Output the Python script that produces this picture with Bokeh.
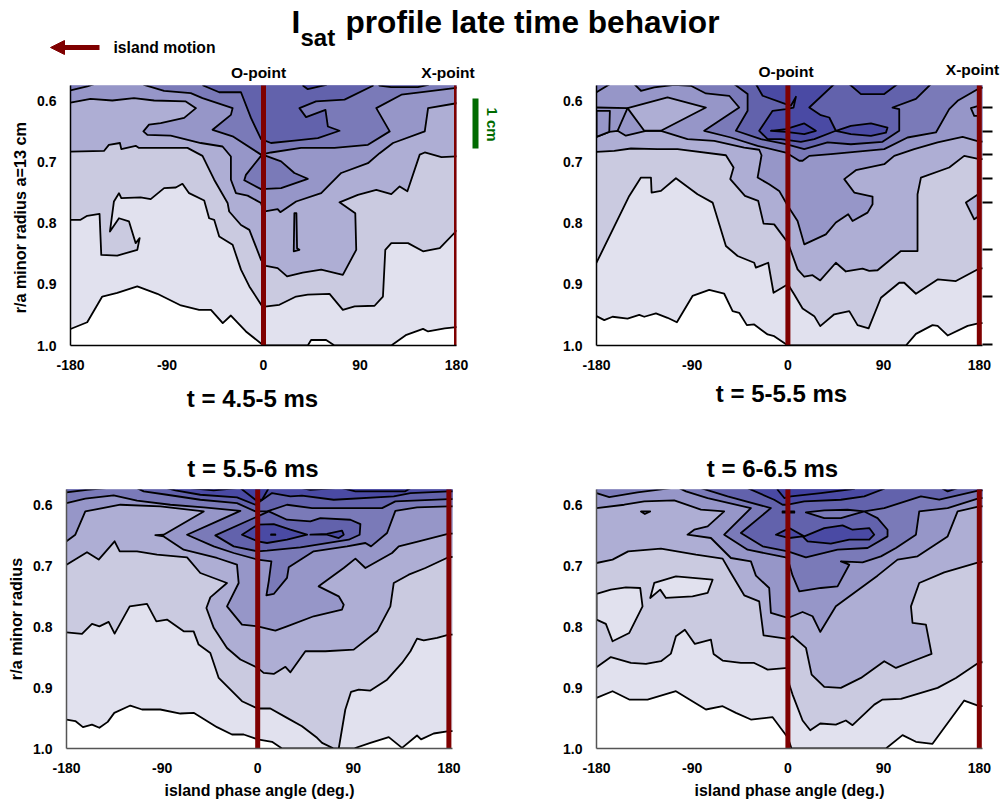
from bokeh.plotting import figure
from bokeh.layouts import column, row
from bokeh.models import Range1d, FixedTicker, NumeralTickFormatter, LinearAxis, Label, Arrow, NormalHead
from bokeh.embed import file_html
from bokeh.resources import INLINE

TITLE_MAIN = "profile late time behavior"
PHASE_TICKS = [-180, -90, 0, 90, 180]
RADIUS_TICKS = [0.6, 0.7, 0.8, 0.9, 1.0]
P2_RIGHT_TICKS = [0.574, 0.611, 0.651, 0.688, 0.727, 0.767, 0.843, 0.92, 0.998]
LEVEL_COLORS = {1: "#e1e1ee", 2: "#cacae0", 3: "#aeaed4", 4: "#9696c8", 5: "#7a7ab8", 6: "#6262ac", 7: "#4a4aa4", 8: "#4040a0"}

# ---- panel 1, t = 4.5-5 ms: contours as (phase deg, r/a)
P1_C1 = [(-180,.973),(-164.4,.962),(-150.4,.920),(-136.4,.914),(-117.7,.9035),(-99,.9155),(-77,.9346),(-60,.9417),(-49,.9417),(-38,.9635),(-30.4,.951),(-16.4,.977),(0,1.0),(41.3,1.0),(44.4,.991),(58.4,.991),(66.2,1.0),(119.2,1.0),(133.3,.9826),(148.8,.9728),(153.5,.977),(169,.972),(180,.970)]
P1_C2 = [(-180,.7945),(-170.6,.7945),(-164.4,.788),(-152.9,.785),(-151.3,.852),(-136.4,.853),(-117.7,.8436),(-115.5,.8245),(-119.2,.8327),(-125.5,.797),(-134.8,.792),(-143.2,.8136),(-139.5,.7646),(-134.8,.751),(-132.6,.759),(-114.6,.758),(-105.2,.7608),(-92.7,.7428),(-81.8,.7417),(-75.6,.7357),(-69.4,.751),(-55.3,.763),(-50.7,.792),(-46,.7945),(-41.3,.822),(-28.8,.8354),(-21,.876),(-13.2,.9035),(-0.8,.937),(14.8,.9335),(30.4,.92),(41.3,.917),(61.6,.9155),(74,.9417),(85,.936),(103.6,.935),(111.4,.92),(113.6,.8436),(119.2,.8327),(134.8,.8327),(148.8,.846),(164.4,.841),(180,.8125)]
P1_C3 = [(-180,.683),(-148.8,.682),(-144.2,.672),(-133.9,.669),(-132.6,.679),(-119.2,.6736),(-116.1,.677),(-70.9,.677),(-56.9,.690),(-46,.729),(-33.5,.767),(-32,.781),(-21,.803),(-13.2,.811),(-2.3,.860),(2.3,.870),(13.2,.8736),(22,.887),(36.6,.8807),(53.8,.876),(74,.8845),(86.5,.8436),(85.6,.7837),(70.9,.766),(88,.7537),(105.2,.7455),(119.2,.7526),(127,.74),(134.2,.748),(145.7,.688),(150.4,.6845),(166,.692),(180,.691)]
P1_SPIKE = [(28.8,.7837),(30.7,.7837),(31.3,.841),(33.5,.8436),(28.2,.846)]
P1_C4 = [(-180,.603),(-161.3,.597),(-141,.5995),(-120.8,.5956),(-102,.5995),(-72.5,.601),(-63,.612),(-74,.628),(-95.9,.6365),(-106.8,.639),(-112,.650),(-108.3,.6556),(-86.5,.657),(-58.5,.669),(-38.2,.6747),(-30.4,.691),(-30.4,.729),(-25.7,.751),(-14.8,.755),(-2.3,.767),(0,.781),(13.2,.777),(15.7,.782),(30.4,.7646),(53.8,.751),(72.5,.718),(97.4,.702),(108.3,.6856),(120.8,.669),(150.4,.650),(153.5,.612),(180,.604)]
P1_C5 = [(-111.4,.574),(-92.7,.5837),(-67.8,.5875),(-56.9,.5956),(-28.8,.612),(-30.4,.623),(-47.5,.6474),(-28.8,.658),(-2.3,.688),(7,.6845),(35,.677),(66.2,.677),(97.4,.672),(117.7,.650),(105.2,.612),(128.6,.590),(153.5,.5847),(180,.579)]
P1_C5_CORNER = [(-180,.583),(-164.4,.5766),(-155,.571)]
P1_C5_ISLAND = [(-2.3,.690),(-16.4,.721),(-17.9,.730),(-2.3,.7444),(16.4,.7428),(41.3,.7275),(28.8,.718),(16.4,.699),(2.3,.690)]
P1_C6 = [(-56.3,.575),(-41.3,.586),(-21,.586),(-11.7,.628),(-2.3,.6627),(7,.669),(28.8,.665),(50.7,.661),(70.9,.649),(60,.642),(57.8,.6147),(39.7,.6267),(33.5,.612),(49,.601),(75.6,.598),(102,.5755)]
P1_C6_TOP = [(108,.575),(119,.5777),(144,.5777),(153.5,.574)]
P1_C7_TOP = [(37,.5755),(41.3,.581),(58.4,.574)]
P1_BANDS = [(1,P1_C1,"up"),(2,P1_C2,"up"),(3,P1_C3,"up"),(4,P1_SPIKE,"loop"),(4,P1_C4,"up"),(5,P1_C5,"up"),(5,P1_C5_CORNER,"up"),(5,P1_C5_ISLAND,"loop"),(6,P1_C6,"up"),(6,P1_C6_TOP,"up"),(7,P1_C7_TOP,"up")]

# ---- panel 2, t = 5-5.5 ms
P2_C1 = [(-180,.952),(-172.7,.9585),(-164.9,.953),(-150.8,.956),(-139.8,.950),(-135.1,.953),(-124.1,.9476),(-113.2,.9547),(-104.4,.962),(-89.7,.919),(-74,.909),(-59.9,.9154),(-52,.9438),(-45.8,.9465),(-38.6,.9667),(-31.7,.9656),(-19.1,.982),(-12.9,.9847),(0,1.0),(111,1.0),(120.4,.981),(136,.9667),(140.8,.968),(150.2,.9836),(169,.968),(180,.9634)]
P2_C2 = [(-180,.8647),(-149.2,.7555),(-138.2,.7255),(-128.8,.7255),(-128.2,.750),(-119.4,.7473),(-105.3,.7266),(-85,.7528),(-70.8,.7664),(-58.3,.8374),(-47.3,.8537),(-31.7,.8647),(-30.1,.8728),(-18.5,.8647),(-13.5,.9138),(0,.900),(6,.9165),(13.8,.9394),(24.8,.952),(30.4,.9683),(43.6,.949),(57.7,.9438),(65.5,.9667),(75.9,.972),(87.5,.922),(104.7,.8974),(109.4,.8974),(120.4,.9154),(140.8,.892),(158,.8947),(180,.874)]
P2_C3 = [(-180,.6835),(-163.3,.682),(-147.6,.678),(-122.6,.679),(-103.8,.679),(-58.3,.689),(-51.1,.709),(-54.2,.728),(-40.4,.7555),(-27.9,.7637),(-22.9,.8008),(-12.9,.802),(0,.832),(9.1,.8756),(15.4,.8876),(23.2,.885),(30.4,.8936),(45.1,.8647),(54.5,.879),(70.2,.8745),(76.5,.878),(84.3,.877),(106.3,.8456),(121.9,.8456),(121.9,.7528),(125.1,.7255),(151.7,.709),(165.8,.690),(180,.6955)]
P2_C3_EDGE = [(180,.7517),(167.4,.7664),(175.2,.7937),(180,.788)]
P2_C4 = [(-180,.659),(-168,.6507),(-160.2,.649),(-152.4,.657),(-133.5,.649),(-119.4,.649),(-94.4,.6628),(-69.3,.6655),(-41.1,.6764),(-27,.680),(-24.8,.689),(-28.5,.7255),(-17.6,.7364),(-8.2,.7473),(0,.772),(9.1,.7965),(15.4,.8347),(35.7,.8183),(45.1,.799),(56.7,.7855),(60.8,.7965),(74.9,.7828),(79.6,.769),(79.6,.7566),(62.4,.750),(53,.728),(63.9,.7135),(90.6,.7037),(100,.690),(118.8,.679),(140.8,.668),(164.3,.659),(180,.6666)]
P2_BOX = [(-180,.6164),(-167.4,.6164),(-168,.6507),(-180,.659)]
P2_ISLAND = [(-150.8,.612),(-113.2,.5945),(-77.1,.611),(-119.4,.649),(-135.1,.649)]
P2_SEAM = [(-180,.611),(-150.8,.612),(-160.2,.649)]
P2_C5 = [(-144.5,.5727),(-138.2,.5836),(-125.7,.578),(-106.9,.5738),(-91.2,.5755),(-77.1,.588),(-55.2,.5918),(-45.8,.611),(-78.7,.649),(-53.6,.660),(-28.5,.6737),(-1.9,.6846),(10.7,.698),(13.8,.698),(20.1,.690),(40.4,.6873),(90.6,.679),(112.5,.660),(139.2,.6518),(151.7,.6136),(159.6,.600),(178.4,.581),(180,.579)]
P2_C5_CORNER = [(-180,.586),(-167.4,.5727)]
P2_C4_EDGE = [(172.1,.612),(180,.608),(180,.6246),(175.2,.6246)]
P2_C6 = [(-50.5,.5727),(-37.9,.589),(-37.9,.6164),(-48.9,.649),(-25.4,.6628),(-1.9,.671),(15.4,.679),(37.3,.668),(59.2,.671),(89,.667),(104.7,.649),(104.7,.6136),(98.4,.611),(120.4,.597),(134.5,.5727)]
P2_C7 = [(-30.1,.5727),(-23.8,.5918),(-1.9,.6055),(2.8,.608),(7.5,.5935),(5.3,.611),(-1.9,.6136),(-14.4,.6164),(-27,.649),(-19.1,.6628),(-6.6,.6628),(12.2,.667),(24.8,.6628),(45.1,.649),(38.9,.6273),(31,.6235),(20.1,.611),(43.6,.5727)]
P2_C7_TOP = [(57.7,.5727),(68.7,.589),(90.6,.589),(103.1,.5727)]
P2_C7_ISLAND = [(45.1,.649),(59.2,.641),(78.1,.637),(93.7,.6437),(92.2,.652),(78.1,.6573),(59.2,.6546)]
P2_C8_ISLAND = [(-16,.649),(-1.9,.6464),(15.4,.637),(26.3,.649),(15.4,.6546),(-1.9,.6507)]
P2_BANDS = [(1,P2_C1,"up"),(2,P2_C2,"up"),(3,P2_C3,"up"),(3,P2_C3_EDGE,"loop"),(4,P2_C4,"up"),(4,P2_BOX,"loop"),(3,P2_ISLAND,"loop"),(0,P2_SEAM,"line"),(5,P2_C5,"up"),(5,P2_C5_CORNER,"up"),(4,P2_C4_EDGE,"loop"),(6,P2_C6,"up"),(7,P2_C7,"up"),(7,P2_C7_TOP,"up"),(7,P2_C7_ISLAND,"loop"),(8,P2_C8_ISLAND,"loop")]

# ---- panel 3, t = 5.5-6 ms
P3_C1 = [(-180,.9525),(-171.7,.955),(-164.5,.965),(-156,.9607),(-149,.966),(-141.2,.9563),(-135,.9415),(-119.9,.9295),(-108.9,.936),(-91.7,.936),(-72.8,.9426),(-60.3,.9415),(-38.3,.965),(-24.2,.977),(-13.2,.977),(0,.985),(13.5,.989),(22.9,1.0),(90.4,1.0),(106.1,.9907),(123.4,.9814),(135.9,.999),(150,.9787),(153.8,.985),(165.7,.9754),(180,.9716)]
P3_C2 = [(-180,.8093),(-165.4,.812),(-156,.7956),(-149,.7995),(-140.3,.7923),(-134.7,.8115),(-120.5,.7667),(-104.2,.7628),(-95.4,.7913),(-85.4,.7885),(-69.7,.8077),(-60.3,.8077),(-55.6,.8295),(-44.6,.8432),(-36.7,.8842),(-14.8,.9224),(0,.9344),(11.9,.9344),(27.6,.9497),(41.7,.9634),(55.9,.9825),(60.6,.9907),(71.6,1.0),(76.3,1.0),(82.5,.936),(87.9,.907),(95.1,.9033),(106.1,.905),(121.8,.887),(135.9,.8596),(143.8,.8404),(150,.8197),(156.3,.8224),(168.9,.8186),(180,.8131)]
P3_C3 = [(-180,.6984),(-160.7,.678),(-149.7,.690),(-134.7,.660),(-129.9,.6765),(-113.6,.6765),(-94.8,.682),(-66.5,.6863),(-54,.712),(-28.9,.7284),(-44.6,.752),(-48.3,.7694),(-41.4,.802),(-28.9,.835),(-16.3,.854),(0,.8678),(5.6,.876),(15.1,.8776),(26.1,.866),(30.8,.875),(44.9,.8404),(63.7,.8404),(90.4,.8377),(112.4,.8077),(124.9,.7667),(128.1,.7284),(142.2,.7148),(157.9,.7038),(180,.6858)]
P3_C4 = [(-180,.660),(-171.7,.6492),(-162.3,.611),(-129.3,.600),(-91.7,.6027),(-50.8,.611),(-88.5,.6492),(-96.4,.650),(-88.5,.652),(-69.7,.6738),(-38.3,.6874),(-19.5,.6984),(-17.9,.7284),(-28.9,.7667),(-14.8,.7967),(0,.7995),(16.6,.8066),(27.6,.7995),(52.7,.783),(79.4,.772),(81,.764),(76.3,.7503),(57.4,.7339),(81,.7038),(92,.6885),(101.4,.7038),(126.5,.6792),(132.8,.6683),(151.6,.660),(180,.6475)]
P3_C5 = [(-180,.5973),(-162.3,.590),(-135.6,.5847),(-113.6,.5934),(-82.2,.600),(-50.8,.6044),(-16.3,.610),(-38.3,.6273),(-66.5,.6492),(-41.4,.6683),(-22.6,.6792),(0,.690),(12.9,.693),(10.4,.7257),(8.2,.7486),(15.1,.7464),(27.6,.720),(29.2,.7027),(52.7,.6765),(84.1,.6683),(101.4,.6628),(106.7,.6683),(121.8,.6464),(129.6,.610),(150,.6044),(180,.6027)]
P3_C6_CORNER = [(-180,.5798),(-160.7,.5754),(-142.5,.5727)]
P3_C6_TOP = [(-113.6,.5727),(-107.3,.578),(-85.4,.5836),(-54,.5918),(-19.5,.5973),(-2.2,.611),(8.8,.611),(27.6,.600),(51.2,.6055),(117.1,.6055),(129.6,.5945),(180,.5907)]
P3_C7_TOP = [(-85.4,.5727),(-77.5,.5765),(-54,.5836),(-19.5,.588),(-2.2,.600),(13.5,.5809),(30.8,.5863),(41.7,.5852),(71.6,.5918),(128.1,.5863),(143.8,.5809),(180,.5781)]
P3_C8_A = [(-63.4,.5727),(-41.4,.5765),(-19.5,.5727)]
P3_C8_B = [(-16.3,.5727),(-2.2,.5918),(4.1,.5918),(10.4,.5727)]
P3_C8_C = [(41.7,.5727),(49.6,.5754),(73.1,.5727)]
P3_C8_D = [(79.4,.5727),(92,.578),(139,.578),(143.8,.5727)]
P3_C6_LOOP = [(10.4,.611),(27.6,.6246),(49.6,.6273),(59,.6219),(87.3,.6246),(96.7,.6317),(96,.6492),(85.7,.6574),(40.2,.670),(8.8,.6754),(0,.6765),(-22.6,.6683),(-39.9,.6503),(0,.6191)]
P3_C7_LOOP = [(-14.8,.6492),(0,.6328),(15.1,.6317),(30.8,.641),(46.5,.6492),(27.6,.6574),(8.8,.6628),(0,.660)]
P3_C7_THIN = [(49.6,.6492),(65.3,.648),(79.4,.6426),(81,.6492),(76.3,.6546),(65.3,.6492)]
P3_C8_DOT = [(12.6,.6488),(16.6,.6488),(16.6,.6496),(12.6,.6496)]
P3_BANDS = [(1,P3_C1,"up"),(2,P3_C2,"up"),(3,P3_C3,"up"),(4,P3_C4,"up"),(5,P3_C5,"up"),(6,P3_C6_CORNER,"up"),(6,P3_C6_TOP,"up"),(7,P3_C7_TOP,"up"),(8,P3_C8_A,"up"),(8,P3_C8_B,"up"),(8,P3_C8_C,"up"),(8,P3_C8_D,"up"),(6,P3_C6_LOOP,"loop"),(7,P3_C7_LOOP,"loop"),(7,P3_C7_THIN,"loop"),(8,P3_C8_DOT,"loop")]

# ---- panel 4, t = 6-6.5 ms
P4_C1 = [(-180,.917),(-164.9,.906),(-149.2,.9197),(-132,.9197),(-105.3,.906),(-77.1,.936),(-61.4,.9306),(-48.9,.9415),(-34.8,.9525),(-14.4,.9486),(0,.9825),(3.4,1.0),(92.2,1.0),(107.8,.978),(120.4,.989),(136,.9923),(165.8,.9213),(180,.9306)]
P4_C2 = [(-180,.8667),(-166.5,.850),(-147.6,.8596),(-133.5,.8612),(-119.4,.8568),(-110,.8443),(-105.3,.8158),(-96.9,.805),(-87.5,.8284),(-72.4,.8213),(-69.9,.8448),(-61.4,.8557),(-44.2,.8596),(-31.7,.8596),(-19.1,.8705),(0,.8678),(1.3,.895),(4.4,.9115),(13.8,.9541),(21,.97),(30.4,.959),(45.1,.9607),(54.5,.9541),(60.8,.9617),(81.2,.928),(89,.9197),(106.3,.9186),(140.8,.9005),(158,.8842),(180,.8585)]
P4_C3 = [(-180,.6956),(-164.9,.690),(-150.2,.6765),(-119.4,.672),(-86.5,.682),(-61.4,.6885),(-53.6,.712),(-41.1,.7486),(-27,.7585),(-22.9,.8142),(0,.8202),(4.4,.8158),(17,.835),(22.3,.8787),(34.2,.8989),(49.8,.9005),(68.7,.8842),(90.6,.8568),(101.6,.8678),(117.2,.8568),(135.1,.8448),(129.8,.7967),(117.2,.794),(115.7,.7667),(123.5,.7284),(147,.711),(180,.694)]
P4_ISLAND_A = [(-180,.7464),(-166.5,.7393),(-152.4,.7355),(-138.9,.7366),(-136.7,.7667),(-149.2,.8104),(-164.9,.824),(-171.2,.7956),(-180,.7885)]
P4_ISLAND_B = [(-129.5,.753),(-125.7,.7284),(-105.3,.7175),(-70.8,.723),(-75.5,.7448),(-89.7,.7503),(-114.7,.753),(-120.1,.7393)]
P4_C4 = [(-180,.6055),(-153.9,.600),(-135.1,.5945),(-106.9,.593),(-81.8,.608),(-59.9,.611),(-75.5,.6355),(-88.1,.641),(-94.4,.6492),(-72.4,.6546),(-53.6,.6874),(-34.8,.693),(-30.1,.7164),(-17.6,.7366),(-16,.7776),(0,.7858),(13.8,.776),(23.2,.783),(30.4,.8087),(45.1,.7667),(84.3,.7164),(103.1,.690),(121.9,.6847),(150.2,.652),(159.6,.611),(180,.6027)]
P4_MARK = [(-138.2,.611),(-129.5,.611),(-134.5,.6153)]
P4_C5_CORNER = [(-180,.5809),(-168,.5874),(-141.4,.5798),(-110,.5727)]
P4_C5 = [(-102.2,.5727),(-95.9,.578),(-75.5,.589),(-34.8,.6055),(-59.9,.6492),(-37.9,.6738),(-1.9,.6863),(0,.690),(4.4,.7164),(10.7,.7421),(31,.7366),(46.7,.7339),(57.7,.6984),(49.8,.6929),(70.2,.6945),(87.5,.6847),(101.6,.671),(120.4,.6492),(123.5,.611),(150.2,.6055),(180,.5891)]
P4_C6 = [(-81.8,.5727),(-56.7,.5863),(-16,.6055),(-44.2,.6464),(-23.8,.6683),(0,.6765),(16.9,.6863),(46.7,.6738),(74.9,.671),(93.7,.6519),(93.7,.641),(84.3,.6219),(71.8,.611),(49.8,.6219),(34.2,.6219),(16.9,.6126),(34.2,.6093),(56.1,.6082),(71.8,.611),(90.6,.6055),(125.1,.5863),(142.3,.5918),(180,.5765)]
P4_C7_TOP = [(-37.9,.5727),(-12.9,.5918),(-5,.600),(0,.600),(15.4,.5945),(49.8,.5918),(71.8,.5863),(90.6,.5738)]
P4_C8_TOP = [(-9.7,.5754),(-3.4,.589),(2.8,.5863),(31,.5809),(62.4,.5738)]
P4_C7_EDGE = [(145.5,.5738),(150.2,.578),(159.6,.5727)]
P4_C7_LOOP = [(-11.3,.6492),(1.3,.6383),(15.4,.6519),(34.2,.6383),(51.4,.6339),(60.8,.641),(76.5,.6383),(81.2,.6492),(76.5,.6574),(57.7,.6574),(40.4,.6639),(18.5,.660),(13.8,.6519),(1.3,.6546)]
P4_BAR = [(-5,.611),(6,.611),(6,.613),(-5,.613)]
P4_BANDS = [(1,P4_C1,"up"),(2,P4_C2,"up"),(3,P4_C3,"up"),(2,P4_ISLAND_A,"loop1"),(2,P4_ISLAND_B,"loop1"),(4,P4_C4,"up"),(5,P4_MARK,"loop"),(5,P4_C5_CORNER,"up"),(5,P4_C5,"up"),(6,P4_C6,"up"),(7,P4_C7_TOP,"up"),(8,P4_C8_TOP,"up"),(7,P4_C7_EDGE,"up"),(7,P4_C7_LOOP,"loop"),(8,P4_BAR,"loop")]

FONT = "Liberation Sans"
RED = "#7f0000"
GREEN = "#006b00"
LW = 1.8
TOP_OFF = 0.5
SIDE_OFF = 200


def closed_up(pts):
    xs = [p[0] for p in pts]
    ys = [p[1] for p in pts]
    if xs[0] <= -180:
        xs = [-SIDE_OFF] + xs
        ys = [ys[0]] + ys
    if xs[-1] >= 180:
        xs = xs + [SIDE_OFF]
        ys = ys + [ys[-1]]
    return xs + [xs[-1], xs[0]], ys + [TOP_OFF, TOP_OFF]


def text(p, x, y, s, size, color="black", align="center", angle=0):
    p.add_layout(Label(x=x, y=y, text=s, text_font=FONT, text_font_style="bold", text_font_size=size,
                       text_color=color, text_align=align, text_baseline="middle", angle=angle))


def panel(bands, width, height, bl, br, bt, bb, x_end, ylabel=None, xlabel=None, gray=False):
    p = figure(width=width, height=height, output_backend="svg", toolbar_location=None,
               x_range=Range1d(-180, x_end), y_range=Range1d(1.0, 0.575),
               min_border_left=bl, min_border_right=br, min_border_top=bt, min_border_bottom=bb,
               outline_line_color=None, background_fill_color="white")
    p.grid.visible = False
    for lev, pts, mode in bands:
        if mode == "up":
            xs, ys = closed_up(pts)
            p.patch(xs, ys, fill_color=LEVEL_COLORS[lev], line_color="black", line_width=LW, line_join="round")
        elif mode == "line":
            p.line([q[0] for q in pts], [q[1] for q in pts], line_color="black", line_width=LW)
        else:
            c = LEVEL_COLORS[1] if mode == "loop1" else LEVEL_COLORS[lev]
            p.patch([q[0] for q in pts], [q[1] for q in pts], fill_color=c, line_color="black", line_width=LW, line_join="round")
    p.segment(x0=[0, 180], y0=[0.5, 0.5], x1=[0, 180], y1=[1.05, 1.05], line_color=RED, line_width=5)
    p.xaxis.ticker = FixedTicker(ticks=PHASE_TICKS)
    p.xaxis.major_label_overrides = {-180: "-180", -90: "-90"}
    p.yaxis.ticker = FixedTicker(ticks=RADIUS_TICKS)
    p.yaxis.formatter = NumeralTickFormatter(format="0.0")
    for ax in (p.xaxis[0], p.yaxis[0]):
        ax.major_tick_line_color = None
        ax.minor_tick_line_color = None
        ax.major_label_text_font = FONT
        ax.major_label_text_font_style = "bold"
        ax.major_label_text_font_size = "14px"
        ax.major_label_text_color = "black"
        ax.axis_line_color = "#555555" if gray else "black"
        ax.axis_line_width = 1.5
        ax.axis_label_text_font = FONT
        ax.axis_label_text_font_style = "bold"
        ax.axis_label_text_color = "black"
    p.xaxis.axis_label_text_font_size = "15.9px"
    p.yaxis.axis_label_text_font_size = "16.2px"
    p.xaxis.major_label_standoff = 8
    p.yaxis.major_label_standoff = 8
    if ylabel:
        p.yaxis.axis_label = ylabel
        p.yaxis.axis_label_standoff = 5
    if xlabel:
        p.xaxis.axis_label = xlabel
        p.xaxis.axis_label_standoff = 6
    return p


f1 = panel(P1_BANDS, 508, 445, 70, 52, 85, 99, 180, ylabel="r/a minor radius  a=13 cm")
f2 = panel(P2_BANDS, 496, 445, 88, 22, 85, 100, 183)
f3 = panel(P3_BANDS, 508, 356, 66, 56, 44, 53, 183.4, ylabel="r/a minor radius", xlabel="island phase angle (deg.)", gray=True)
f4 = panel(P4_BANDS, 496, 356, 88, 22, 44, 53, 183, xlabel="island phase angle (deg.)", gray=True)

# extra right-hand tick marks of panel 2
rax = LinearAxis(ticker=FixedTicker(ticks=P2_RIGHT_TICKS), major_tick_out=10, major_tick_in=0, minor_tick_line_color=None,
                 major_tick_line_color="black", major_tick_line_width=2, axis_line_color=None,
                 major_label_overrides={t: "" for t in P2_RIGHT_TICKS}, major_label_standoff=0)
f2.add_layout(rax, "right")

# transparent page-sized layer (data units are page pixels) for the texts that lie outside the frames
over = figure(width=1004, height=801, output_backend="svg", toolbar_location=None, x_range=Range1d(0, 1004),
              y_range=Range1d(801, 0), min_border=0, outline_line_color=None, x_axis_type=None, y_axis_type=None,
              background_fill_alpha=0, border_fill_alpha=0)
over.grid.visible = False
over.styles = {"position": "absolute", "left": "0px", "top": "0px", "pointer-events": "none"}
text(over, 291, 21, "I", "31.6px", align="left")
text(over, 300, 37, "sat", "24px", align="left")
text(over, 345, 21, TITLE_MAIN, "31.6px", align="left")
text(over, 113, 47, "island motion", "15.7px", align="left")
over.add_layout(Arrow(end=NormalHead(size=14, fill_color=RED, line_color=RED), x_start=99, y_start=47, x_end=50, y_end=47,
                      line_color=RED, line_width=5))
text(over, 258, 72, "O-point", "15.5px")
text(over, 447.5, 72, "X-point", "15.5px")
text(over, 785.5, 71, "O-point", "15.5px")
text(over, 972, 69, "X-point", "15.5px")
text(over, 252, 398, "t = 4.5-5 ms", "24px")
text(over, 781, 393, "t = 5-5.5 ms", "24px")
text(over, 252.5, 468, "t = 5.5-6 ms", "24px")
text(over, 772, 468, "t = 6-6.5 ms", "24px")
over.segment(x0=[475], y0=[98], x1=[475], y1=[148], line_color=GREEN, line_width=6)
text(over, 492, 124, "1 cm", "15px", color=GREEN, angle=-1.5708)

page = column(row(f1, f2), row(f3, f4), over)
open("out.html", "w").write(file_html(page, INLINE))
